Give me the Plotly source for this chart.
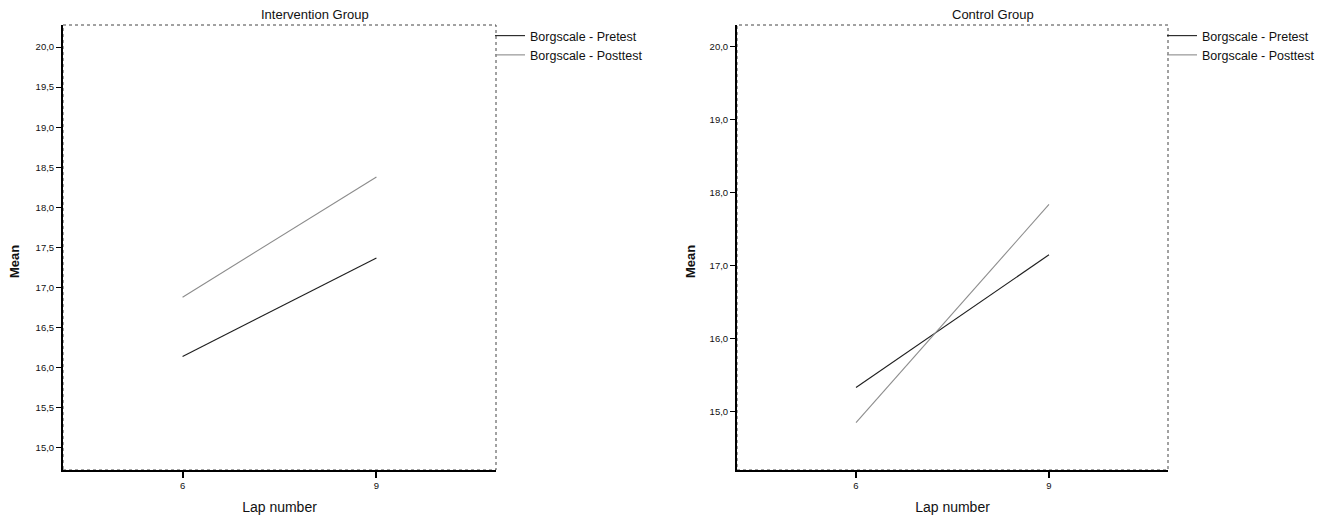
import plotly.graph_objects as go

# Mean Borg scale ratings at laps 6 and 9
laps = [6, 9]
intervention_pretest = [16.14, 17.37]
intervention_posttest = [16.88, 18.38]
control_pretest = [15.33, 17.15]
control_posttest = [14.85, 17.84]

series_names = ["Borgscale - Pretest", "Borgscale - Posttest"]
panel_titles = ["Intervention Group", "Control Group"]

left_yticks = [15.0, 15.5, 16.0, 16.5, 17.0, 17.5, 18.0, 18.5, 19.0, 19.5, 20.0]
right_yticks = [15.0, 16.0, 17.0, 18.0, 19.0, 20.0]

W, H = 1340, 519
FONT = "Liberation Sans, Arial, sans-serif"
PRE_COLOR = "#1e1e1e"
POST_COLOR = "#8c8c8c"


def comma(v):
    return f"{v:.1f}".replace(".", ",")


fig = go.Figure()

panels = [
    ("x", "y", "legend", intervention_pretest, intervention_posttest),
    ("x2", "y2", "legend2", control_pretest, control_posttest),
]
for xa, ya, lg, pre, post in panels:
    fig.add_trace(go.Scatter(
        x=laps, y=pre, mode="lines", name=series_names[0],
        line=dict(color=PRE_COLOR, width=1.1),
        xaxis=xa, yaxis=ya, legend=lg,
    ))
    fig.add_trace(go.Scatter(
        x=laps, y=post, mode="lines", name=series_names[1],
        line=dict(color=POST_COLOR, width=1.1),
        xaxis=xa, yaxis=ya, legend=lg,
    ))

y_bottom = (H - 470) / H
y_top = (H - 25) / H
left_dom = [63 / W, 496 / W]
right_dom = [737 / W, 1168 / W]

common_x = dict(
    range=[4.15, 10.85], tickvals=laps, ticktext=[str(v) for v in laps],
    showgrid=False, zeroline=False, showline=True, linecolor="black",
    linewidth=2, ticks="outside", ticklen=6, tickwidth=1.5, tickcolor="black",
    tickfont=dict(family=FONT, size=9.5, color="#111"),
    title=dict(text="Lap number", font=dict(family=FONT, size=14, color="#111"),
               standoff=12),
)
common_y = dict(
    showgrid=False, zeroline=False, showline=True, linecolor="black",
    linewidth=2, ticks="outside", ticklen=5, tickwidth=1, tickcolor="black",
    tickfont=dict(family=FONT, size=9.5, color="#111"),
)

legend_style = dict(yanchor="top", xanchor="left", itemwidth=30,
                    font=dict(family=FONT, size=12.5, color="#111"),
                    bgcolor="rgba(0,0,0,0)", tracegroupgap=0)

fig.update_layout(
    width=W, height=H,
    margin=dict(l=0, r=0, t=0, b=0),
    paper_bgcolor="white", plot_bgcolor="white",
    showlegend=True,
    xaxis=dict(domain=left_dom, anchor="y", **common_x),
    yaxis=dict(domain=[y_bottom, y_top], anchor="x", range=[14.725, 20.275],
               tickvals=left_yticks, ticktext=[comma(v) for v in left_yticks],
               **common_y),
    xaxis2=dict(domain=right_dom, anchor="y2", **common_x),
    yaxis2=dict(domain=[y_bottom, y_top], anchor="x2", range=[14.2, 20.3],
                tickvals=right_yticks, ticktext=[comma(v) for v in right_yticks],
                **common_y),
    legend=dict(x=490 / W, y=(H - 21) / H, **legend_style),
    legend2=dict(x=1162 / W, y=(H - 21) / H, **legend_style),
)

# dotted frame around each plot area (top and right edges)
for xr, yr in [("x domain", "y domain"), ("x2 domain", "y2 domain")]:
    fig.add_shape(type="rect", xref=xr, yref=yr, x0=0, x1=1, y0=0, y1=1,
                  line=dict(color="#444", width=1, dash="dot"), layer="below")

# panel titles and y-axis labels
for cx, title in [(315 / W, panel_titles[0]), (993 / W, panel_titles[1])]:
    fig.add_annotation(x=cx, y=(H - 14) / H, xref="paper", yref="paper",
                       xanchor="center", yanchor="middle",
                       text=title, showarrow=False,
                       font=dict(family=FONT, size=13, color="#111"))
for mx in [15 / W, 691 / W]:
    fig.add_annotation(x=mx, y=(H - 262) / H, xref="paper", yref="paper",
                       xanchor="center", yanchor="middle",
                       text="<b>Mean</b>", textangle=-90, showarrow=False,
                       font=dict(family=FONT, size=13, color="#111"))

fig.write_html("out.html")
